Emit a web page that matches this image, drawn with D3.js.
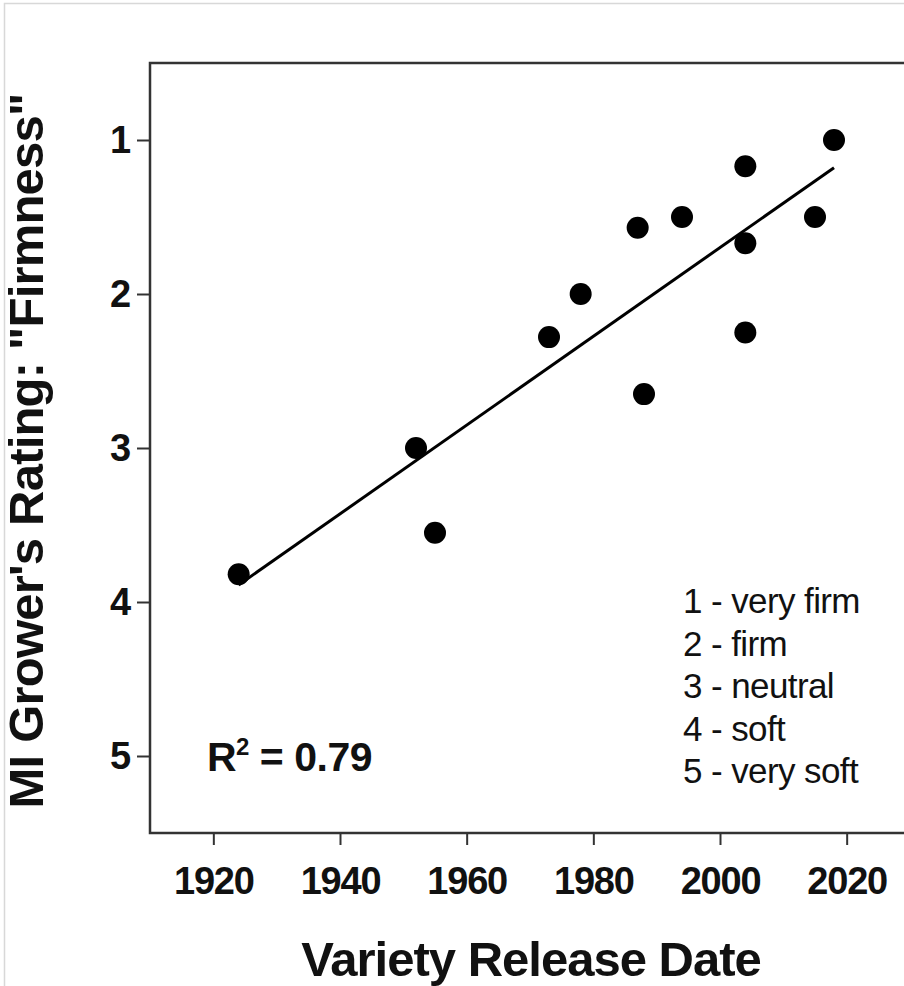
<!DOCTYPE html>
<html>
<head>
<meta charset="utf-8">
<script src="https://cdn.jsdelivr.net/npm/d3@7"></script>
<style>
  body { margin: 0; background: #fff; }
  svg { display: block; font-family: "Liberation Sans", Arial, sans-serif; }
</style>
</head>
<body>
<div id="chart"></div>
<script>
// release year of each variety and its firmness rating (1 = very firm)
const years   = [1924, 1952, 1955, 1973, 1978, 1987, 1988, 1994, 2004, 2004, 2004, 2015, 2018];
const ratings = [3.82, 3.00, 3.55, 2.28, 2.00, 1.57, 2.65, 1.50, 1.17, 1.67, 2.25, 1.50, 1.00];
const xTicks = [1920, 1940, 1960, 1980, 2000, 2020];
const yTicks = [1, 2, 3, 4, 5];
const legendLines = ["1 - very firm", "2 - firm", "3 - neutral", "4 - soft", "5 - very soft"];
const r2Value = "0.79";

document.addEventListener("DOMContentLoaded", function () {
    drawChart();
});

function drawChart() {
    const w = 904, h = 986;
    const left = 150, top = 63, bottom = 833, right = 910;

    const svg = d3.select("#chart").append("svg").attr("width", w).attr("height", h);

    // faint frame of the original screenshot
    svg.append("path").attr("d", "M4.5," + h + "V3.5H" + w)
        .attr("fill", "none").attr("stroke", "#d8d8d8").attr("stroke-width", 1.5);

    const x = d3.scaleLinear().domain([1910, 2030]).range([left, right]);
    const y = d3.scaleLinear().domain([0.5, 5.5]).range([top, bottom]);

    // plot box
    svg.append("rect").attr("x", left).attr("y", top)
        .attr("width", right - left).attr("height", bottom - top)
        .attr("fill", "none").attr("stroke", "#333").attr("stroke-width", 2.5);

    const xAxis = d3.axisBottom(x).tickValues(xTicks).tickFormat(d3.format("d"))
        .tickSize(12).tickPadding(22).tickSizeOuter(0);
    const yAxis = d3.axisLeft(y).tickValues(yTicks).tickFormat(d3.format("d"))
        .tickSize(13).tickPadding(7).tickSizeOuter(0);

    const gx = svg.append("g").attr("transform", "translate(0," + bottom + ")").call(xAxis);
    const gy = svg.append("g").attr("transform", "translate(" + left + ",0)").call(yAxis);
    [gx, gy].forEach(g => {
        g.select(".domain").remove();
        g.selectAll(".tick line").attr("stroke", "#333").attr("stroke-width", 2);
        g.selectAll(".tick text").attr("fill", "#111")
            .style("font-family", "Liberation Sans, Arial, sans-serif")
            .style("font-size", "38px").style("font-weight", "bold")
            .style("letter-spacing", "-1.2px");
    });

    // axis titles
    svg.append("text").attr("x", 531).attr("y", 976)
        .attr("text-anchor", "middle").attr("fill", "#111")
        .style("font-size", "49px").style("font-weight", "bold")
        .style("letter-spacing", "-1px")
        .text("Variety Release Date");
    svg.append("text")
        .attr("transform", "translate(43,451) rotate(-90)")
        .attr("text-anchor", "middle").attr("fill", "#111")
        .style("font-size", "49px").style("font-weight", "bold")
        .style("letter-spacing", "-0.8px")
        .text("MI Grower's Rating: \"Firmness\"");

    // least squares fit through the points
    const pts = years.map((yr, i) => ({ year: yr, rating: ratings[i] }));
    const mx = d3.mean(years), my = d3.mean(ratings);
    const slope = d3.sum(pts, d => (d.year - mx) * (d.rating - my)) / d3.sum(pts, d => (d.year - mx) ** 2);
    const fit = yr => my + slope * (yr - mx);
    const ext = d3.extent(years);
    svg.append("path")
        .datum(ext)
        .attr("d", d3.line().x(d => x(d)).y(d => y(fit(d))))
        .attr("stroke", "#000").attr("stroke-width", 3).attr("fill", "none");

    svg.selectAll("circle.dot")
        .data(pts)
        .enter()
        .append("circle")
        .attr("class", "dot")
        .attr("cx", d => x(d.year))
        .attr("cy", d => y(d.rating))
        .attr("r", 11)
        .attr("fill", "#000");

    // R squared note
    const r2 = svg.append("text").attr("x", x(1919)).attr("y", y(5) + 15)
        .attr("fill", "#111").style("font-size", "41px").style("font-weight", "bold")
        .style("letter-spacing", "-0.5px");
    r2.append("tspan").text("R");
    r2.append("tspan").attr("dy", -16).style("font-size", "24px").text("2");
    r2.append("tspan").attr("dy", 16).text(" = " + r2Value);

    // rating legend
    svg.append("g").selectAll("text")
        .data(legendLines)
        .enter()
        .append("text")
        .attr("x", 683)
        .attr("y", (d, i) => 613 + i * 42.5)
        .attr("fill", "#111")
        .style("font-size", "35px")
        .style("letter-spacing", "-0.6px")
        .text(d => d);
}
</script>
</body>
</html>
